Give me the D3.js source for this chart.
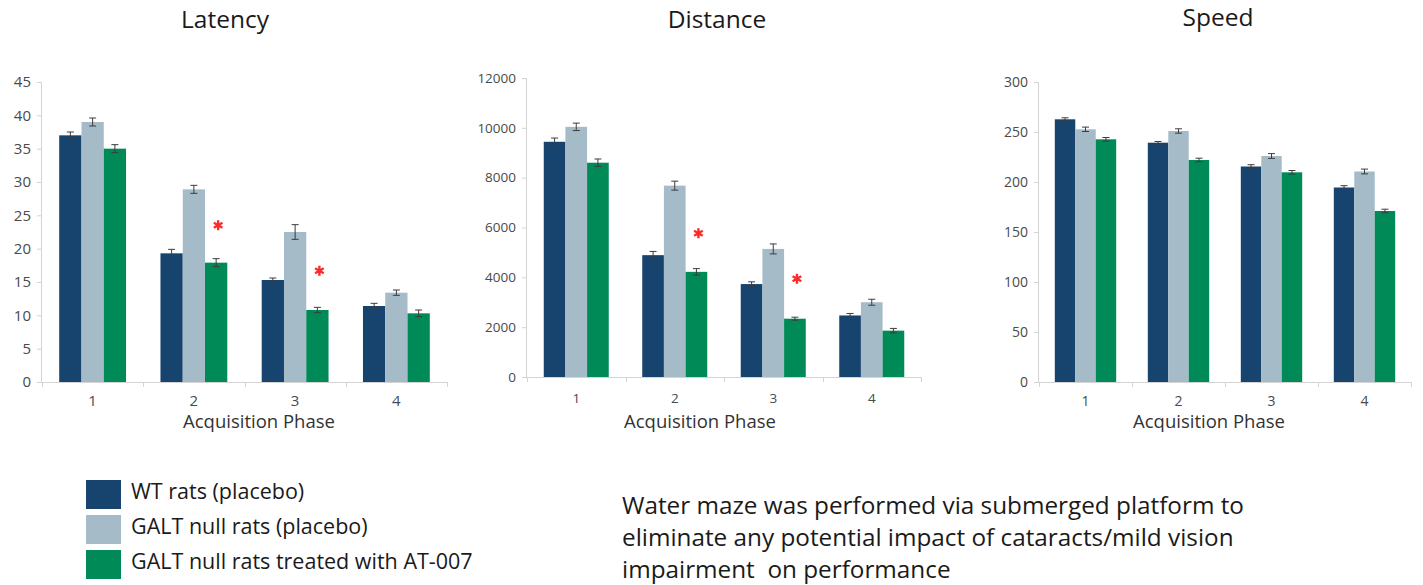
<!DOCTYPE html>
<html>
<head>
<meta charset="utf-8">
<script src="https://cdn.jsdelivr.net/npm/d3@7"></script>
<style>
  html, body { margin: 0; padding: 0; background: #ffffff; }
  svg { display: block; font-family: "Open Sans", sans-serif; }
</style>
</head>
<body>
<svg id="chart" width="1423" height="585"></svg>
<script>
// Acquisition phases (x categories) and the three treatment groups
const phases = ["1", "2", "3", "4"];
const groups = ["WT rats (placebo)", "GALT null rats (placebo)", "GALT null rats treated with AT-007"];
const groupColors = ["#17436f", "#a5bcc8", "#008a57"];

// Latency (s)
const latencyWT   = [37.0, 19.3, 15.3, 11.4];
const latencyGALT = [39.0, 28.9, 22.5, 13.4];
const latencyAT   = [35.0, 17.9, 10.8, 10.3];
const latencyErrWT   = [0.5, 0.6, 0.3, 0.4];
const latencyErrGALT = [0.6, 0.6, 1.1, 0.4];
const latencyErrAT   = [0.6, 0.6, 0.4, 0.5];
const latencyTicks = [0, 5, 10, 15, 20, 25, 30, 35, 40, 45];
const latencyStars = [null, 23.5, 16.7, null];

// Distance
const distanceWT   = [9440, 4890, 3730, 2470];
const distanceGALT = [10040, 7680, 5140, 3000];
const distanceAT   = [8600, 4220, 2340, 1860];
const distanceErrWT   = [150, 150, 90, 80];
const distanceErrGALT = [150, 180, 200, 120];
const distanceErrAT   = [150, 130, 60, 90];
const distanceTicks = [0, 2000, 4000, 6000, 8000, 10000, 12000];
const distanceStars = [null, 5770, 3940, null];

// Speed
const speedWT   = [262.7, 239.3, 215.5, 194.5];
const speedGALT = [252.7, 251.0, 226.0, 210.5];
const speedAT   = [242.7, 222.0, 209.7, 171.0];
const speedErrWT   = [1.5, 1.2, 1.8, 1.8];
const speedErrGALT = [2.2, 2.2, 2.4, 2.4];
const speedErrAT   = [1.8, 1.8, 1.8, 1.8];
const speedTicks = [0, 50, 100, 150, 200, 250, 300];
const speedStars = [null, null, null, null];

const legendLabels = groups;
const noteLines = [
  "Water maze was performed via submerged platform to",
  "eliminate any potential impact of cataracts/mild vision",
  "impairment  on performance"
];

const svg = d3.select("#chart");

const panels = [
  { title: "Latency", titleX: 225, titleY: 28, x0: 42, x1: 447, yBottom: 382, yTop: 82,
    max: 45, ticks: latencyTicks, tickSize: 15, catY: 406, values: [latencyWT, latencyGALT, latencyAT],
    errors: [latencyErrWT, latencyErrGALT, latencyErrAT], stars: latencyStars, axisTitleX: 259 },
  { title: "Distance", titleX: 717, titleY: 28, x0: 527, x1: 921, yBottom: 377, yTop: 78,
    max: 12000, ticks: distanceTicks, tickSize: 13.5, catY: 403, values: [distanceWT, distanceGALT, distanceAT],
    errors: [distanceErrWT, distanceErrGALT, distanceErrAT], stars: distanceStars, axisTitleX: 700 },
  { title: "Speed", titleX: 1218, titleY: 26, x0: 1039, x1: 1411, yBottom: 382, yTop: 82,
    max: 300, ticks: speedTicks, tickSize: 14, catY: 406, values: [speedWT, speedGALT, speedAT],
    errors: [speedErrWT, speedErrGALT, speedErrAT], stars: speedStars, axisTitleX: 1209 }
];

const axisColor = "#d4d4d4";
const labelColor = "#4a4a4a";

panels.forEach(p => {
  const g = svg.append("g");

  const x = d3.scaleBand().domain(phases).range([p.x0, p.x1])
    .paddingInner(0.34).paddingOuter(0.17);
  const xs = d3.scaleBand().domain(d3.range(groups.length)).range([0, x.bandwidth()]);
  const y = d3.scaleLinear().domain([0, p.max]).range([p.yBottom, p.yTop]);

  // Title
  g.append("text")
    .attr("x", p.titleX).attr("y", p.titleY)
    .attr("text-anchor", "middle")
    .attr("font-size", 24.5).attr("fill", "#1a1a1a")
    .text(p.title);

  // Y axis
  const yAxis = g.append("g")
    .attr("transform", `translate(${p.x0},0)`)
    .call(d3.axisLeft(y).tickValues(p.ticks).tickSize(5).tickPadding(6).tickFormat(d3.format("d")));
  yAxis.select(".domain").attr("stroke", axisColor).attr("d", `M-0.5,${p.yBottom}V${p.yTop}`);
  yAxis.selectAll(".tick line").attr("stroke", axisColor);
  yAxis.selectAll(".tick text").attr("fill", labelColor).attr("font-size", p.tickSize)
    .attr("font-family", "Open Sans, sans-serif");

  // X axis: ticks at band boundaries
  const boundaries = d3.range(phases.length + 1).map(i => p.x0 + i * x.step());
  const xg = g.append("g");
  xg.append("line")
    .attr("x1", p.x0 - 5).attr("x2", p.x1)
    .attr("y1", p.yBottom + 0.5).attr("y2", p.yBottom + 0.5)
    .attr("stroke", axisColor);
  xg.selectAll("line.bt").data(boundaries).join("line").attr("class", "bt")
    .attr("x1", d => Math.round(d) + 0.5).attr("x2", d => Math.round(d) + 0.5)
    .attr("y1", p.yBottom).attr("y2", p.yBottom + 5)
    .attr("stroke", axisColor);
  xg.selectAll("text.cat").data(phases).join("text").attr("class", "cat")
    .attr("x", d => x(d) + x.bandwidth() / 2)
    .attr("y", p.catY)
    .attr("text-anchor", "middle")
    .attr("font-size", p.tickSize).attr("fill", labelColor)
    .text(d => d);
  g.append("text")
    .attr("x", p.axisTitleX).attr("y", 428)
    .attr("text-anchor", "middle")
    .attr("font-size", 18.5).attr("fill", "#333333")
    .text("Acquisition Phase");

  // Bars with error bars
  groups.forEach((grp, gi) => {
    const rows = phases.map((ph, i) => ({ ph, v: p.values[gi][i], e: p.errors[gi][i] }));
    const sg = g.append("g");
    sg.selectAll("rect").data(rows).join("rect")
      .attr("x", d => x(d.ph) + xs(gi))
      .attr("y", d => y(d.v))
      .attr("width", xs.bandwidth())
      .attr("height", d => y(0) - y(d.v))
      .attr("fill", groupColors[gi]);
    const eb = sg.selectAll("g.err").data(rows).join("g").attr("class", "err")
      .attr("stroke", "#3c3c3c").attr("stroke-width", 1);
    const cx = d => x(d.ph) + xs(gi) + xs.bandwidth() / 2;
    eb.append("line")
      .attr("x1", cx).attr("x2", cx)
      .attr("y1", d => y(d.v + d.e)).attr("y2", d => y(d.v - d.e));
    eb.append("line")
      .attr("x1", d => cx(d) - 3.5).attr("x2", d => cx(d) + 3.5)
      .attr("y1", d => y(d.v + d.e)).attr("y2", d => y(d.v + d.e));
    eb.append("line")
      .attr("x1", d => cx(d) - 3.5).attr("x2", d => cx(d) + 3.5)
      .attr("y1", d => y(d.v - d.e)).attr("y2", d => y(d.v - d.e));
  });

  // Significance markers above the treated group
  const starRows = phases.map((ph, i) => ({ ph, v: p.stars[i] })).filter(d => d.v != null);
  const star = d3.symbol().type(d3.symbolAsterisk).size(70);
  g.selectAll("path.star").data(starRows).join("path").attr("class", "star")
    .attr("d", star)
    .attr("transform", d => `translate(${x(d.ph) + xs(2) + xs.bandwidth() / 2 + 2},${y(d.v)})`)
    .attr("fill", "none").attr("stroke", "#ff2a2a").attr("stroke-width", 2.4);
});

// Legend
const legend = svg.append("g");
legendLabels.forEach((lab, i) => {
  const row = legend.append("g").attr("transform", `translate(86,${480 + i * 35})`);
  row.append("rect").attr("width", 35).attr("height", 29)
    .attr("fill", groupColors[i]);
  row.append("text").attr("x", 45).attr("y", 19)
    .attr("font-size", 21.5).attr("fill", "#1a1a1a")
    .text(lab);
});

// Note text
const note = svg.append("text")
  .attr("x", 622).attr("font-size", 24.3).attr("fill", "#1a1a1a");
noteLines.forEach((line, i) => {
  note.append("tspan").attr("x", 622).attr("y", 514 + i * 32)
    .attr("xml:space", "preserve")
    .text(line);
});
</script>
</body>
</html>
